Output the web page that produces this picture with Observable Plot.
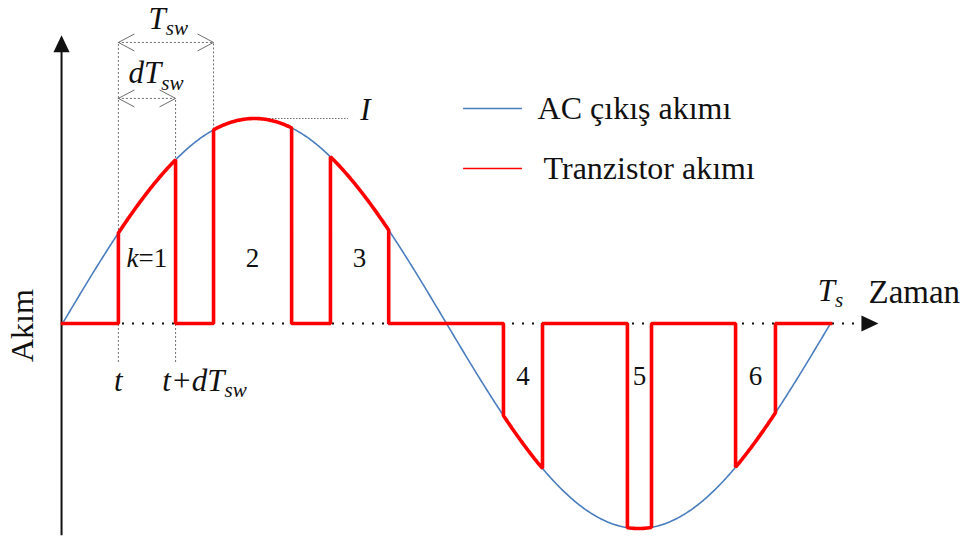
<!DOCTYPE html>
<html>
<head>
<meta charset="utf-8">
<script src="https://cdn.jsdelivr.net/npm/d3@7"></script>
<script src="https://cdn.jsdelivr.net/npm/@observablehq/plot@0.6"></script>
<style>
  html, body { margin: 0; padding: 0; background: #fff; }
  #chart { width: 967px; height: 541px; }
</style>
</head>
<body>
<div id="chart"></div>
<script>
// Time is the phase angle ωt in degrees over one output period T_s;
// current is expressed in units of the peak value I.
const periodEnd = 360;
const peakCurrent = 1;
const switchOn  = [26.2, 70.8, 125.6, 206.7, 264.8, 315.5];   // transistor turn-on instants
const switchOff = [53.0, 107.4, 152.9, 225.0, 276.1, 334.2];  // transistor turn-off instants
const pulseNames = ["k=1", "2", "3", "4", "5", "6"];
const legendNames = ["AC çıkış akımı", "Tranzistor akımı"];
const axisNames = { x: "Zaman", y: "Akım" };

const blue = "#4a7ebf";
const red = "#ff0000";
const ink = "#111";
const guide = "#6e6e6e";
const serif = "'Liberation Serif', 'DejaVu Serif', serif";

const rad = Math.PI / 180;
const current = a => peakCurrent * Math.sin(a * rad);

// AC output current over one period
const acCurve = d3.range(0, periodEnd + 0.25, 0.5).map(a => ({a, i: current(a)}));

// Transistor current: follows the AC current while the switch is on, zero otherwise
const transistor = [{a: 0, i: 0}];
switchOn.forEach((on, k) => {
  const off = switchOff[k];
  transistor.push({a: on, i: 0});
  for (let a = on; a < off; a += 0.5) transistor.push({a, i: current(a)});
  transistor.push({a: off, i: current(off)}, {a: off, i: 0});
});
transistor.push({a: periodEnd, i: 0});

// Pulse numbers sit in the middle of each conduction interval
const pulses = switchOn.map((on, k) => ({
  a: (on + switchOff[k]) / 2,
  name: pulseNames[k],
  up: current((on + switchOff[k]) / 2) > 0
}));

// Symbols for the axis arrowheads and the dimension-line chevrons
const arrowHead = {
  draw(ctx, size) {
    const r = Math.sqrt(size / Math.PI);
    ctx.moveTo(0, -r); ctx.lineTo(0.95 * r, r); ctx.lineTo(-0.95 * r, r); ctx.closePath();
  }
};
const chevron = {
  draw(ctx, size) {
    const r = Math.sqrt(size / Math.PI);
    ctx.moveTo(r, -0.53 * r); ctx.lineTo(0, 0); ctx.lineTo(r, 0.53 * r);
  }
};

const t0 = switchOn[0], t1 = switchOff[0], t2 = switchOn[1];
const swLevel = 1.371, dLevel = 1.098, guideBottom = -0.19;

const dims = [
  {x1: t0, x2: t2, y: swLevel},
  {x1: t0, x2: t1, y: dLevel}
];
const guides = [
  {x: t0, y1: guideBottom, y2: swLevel},
  {x: t1, y1: guideBottom, y2: dLevel},
  {x: t2, y1: current(t2), y2: swLevel}
];
const chevrons = dims.flatMap(d => [{x: d.x1, y: d.y, rot: 0}, {x: d.x2, y: d.y, rot: 180}]);

// Symbol labels, centred on their anchor point
const mathLabels = [
  {x: 49.6, y: 1.485, text: "T_sw"},
  {x: 43.8, y: 1.22, text: "dT_sw"},
  {x: t0, y: -0.28, text: "t"},
  {x: 66.6, y: -0.28, text: "t+dT_sw"},
  {x: 142.0, y: 1.04, text: "I"},
  {x: periodEnd, y: 0.16, text: "T_s"}
];

const legend = [
  {name: legendNames[0], color: blue, y: 1.049, tx: 222.7},
  {name: legendNames[1], color: red, y: 0.756, tx: 225.5}
];

const chart = Plot.plot({
  width: 967,
  height: 541,
  margin: 0,
  x: {domain: [0, periodEnd], range: [62, 830], axis: null},
  y: {domain: [-peakCurrent, peakCurrent], range: [528, 118], axis: null},
  style: {background: "#fff", fontFamily: serif, overflow: "visible"},
  marks: [
    // dotted time axis
    Plot.ruleY([0], {x1: 0, x2: 374, stroke: ink, strokeWidth: 2.2, strokeDasharray: "2,8"}),
    Plot.dot([{x: 378.5, y: 0}], {x: "x", y: "y", symbol: arrowHead, r: 8.5, rotate: 90, fill: ink, stroke: "none"}),
    // current axis
    Plot.ruleX([-0.45], {y1: -1.035, y2: 1.36, stroke: ink, strokeWidth: 2}),
    Plot.dot([{x: -0.45, y: 1.365}], {x: "x", y: "y", symbol: arrowHead, r: 8.5, fill: ink, stroke: "none"}),
    // switching period dimension lines
    Plot.ruleX(guides, {x: "x", y1: "y1", y2: "y2", stroke: guide, strokeWidth: 1, strokeDasharray: "2,2"}),
    Plot.ruleY(dims, {y: "y", x1: "x1", x2: "x2", stroke: guide, strokeWidth: 1, strokeDasharray: "2,2"}),
    Plot.dot(chevrons, {x: "x", y: "y", rotate: "rot", symbol: chevron, r: 16, fill: "none", stroke: guide, strokeWidth: 1}),
    // peak marker
    Plot.ruleY([peakCurrent], {x1: 90, x2: 134, stroke: guide, strokeWidth: 1, strokeDasharray: "1.5,1.5"}),
    // currents
    Plot.line(acCurve, {x: "a", y: "i", stroke: blue, strokeWidth: 1.6}),
    Plot.line(transistor, {x: "a", y: "i", stroke: red, strokeWidth: 3.6, strokeLinejoin: "miter", strokeLinecap: "square"}),
    // pulse numbers
    Plot.text(pulses, {x: "a", y: d => d.up ? 0.317 : -0.26, text: "name", fontSize: 27, fill: ink}),
    // symbols
    Plot.text(mathLabels, {x: "x", y: "y", text: "text", fontSize: 31, fontStyle: "italic", fill: ink}),
    // axis names
    Plot.text([axisNames.x], {x: 377.8, y: 0.151, text: d => d, textAnchor: "start", fontSize: 33, fill: ink}),
    Plot.text([axisNames.y], {x: -18.75, y: -0.01, text: d => d, rotate: -90, fontSize: 32, fill: ink}),
    // legend
    Plot.ruleY(legend, {y: "y", x1: 188, x2: 215.6, stroke: "color", strokeWidth: 1.6}),
    Plot.text(legend, {x: "tx", y: "y", text: "name", textAnchor: "start", fontSize: 32, fill: ink})
  ]
});

// Render "_" as a subscript and a leading variable before "=" in italics
d3.select(chart).selectAll("text").each(function () {
  const el = d3.select(this);
  if (el.selectAll("tspan").size()) return;
  const s = el.text();
  if (s.includes("_")) {
    const [base, sub] = s.split("_");
    el.text(null);
    el.append("tspan").text(base);
    el.append("tspan").attr("font-size", "0.68em").attr("dy", "0.3em").text(sub);
  } else if (/^[a-z]=/.test(s)) {
    el.text(null);
    el.append("tspan").attr("font-style", "italic").text(s[0]);
    el.append("tspan").text(s.slice(1));
  }
});

document.getElementById("chart").appendChild(chart);
</script>
</body>
</html>
